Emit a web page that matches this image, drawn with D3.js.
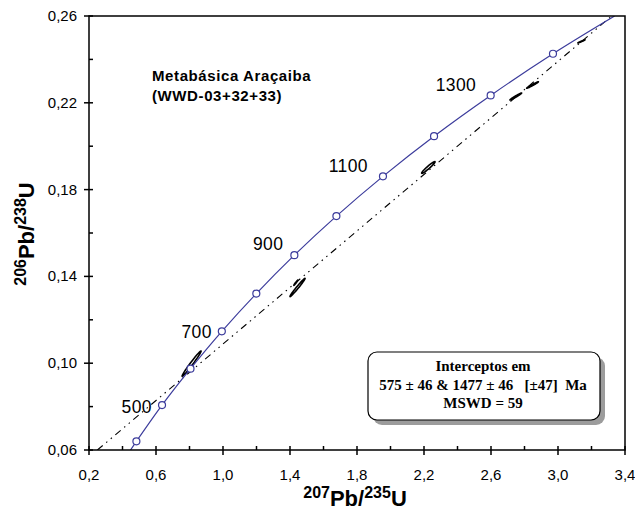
<!DOCTYPE html>
<html>
<head>
<meta charset="utf-8">
<script src="https://cdn.jsdelivr.net/npm/d3@7/dist/d3.min.js"></script>
<style>
  body { margin: 0; background: #fff; }
  svg { display: block; font-family: Arial, "Liberation Sans", sans-serif; }
</style>
</head>
<body>
<svg id="chart" width="635" height="519"></svg>
<script>
// concordia age marks (Ma) and their ratios
const ages = [400, 500, 600, 700, 800, 900, 1000, 1100, 1200, 1300, 1400]
const concX = [0.483, 0.636, 0.806, 0.993, 1.199, 1.426, 1.677, 1.955, 2.260, 2.598, 2.970]
const concY = [0.0640, 0.0807, 0.0975, 0.1147, 0.1321, 0.1498, 0.1678, 0.1861, 0.2046, 0.2234, 0.2426]
const labelAges = [500, 700, 900, 1100, 1300]
// where the curve leaves the frame
const curveStart = [0.448, 0.060]
const curveEnd = [3.338, 0.260]

// discordia line ends
const discX = [0.250, 3.321]
const discY = [0.060, 0.260]

// error ellipses: centre, 2 sigma, correlation
const ellX = [0.8125, 1.445, 1.435, 2.226, 2.748, 2.848, 3.140]
const ellY = [0.0998, 0.1349, 0.1371, 0.1902, 0.2229, 0.2282, 0.2483]
const ellSx = [0.0565, 0.045, 0.012, 0.040, 0.035, 0.035, 0.021]
const ellSy = [0.0058, 0.0042, 0.0012, 0.0027, 0.0016, 0.0015, 0.0007]
const ellRho = [0.985, 0.985, 0.98, 0.96, 0.98, 0.98, 0.98]

const xTicks = [0.2, 0.6, 1.0, 1.4, 1.8, 2.2, 2.6, 3.0, 3.4]
const xMinor = [0.4, 0.8, 1.2, 1.6, 2.0, 2.4, 2.8, 3.2]
const yTicks = [0.06, 0.10, 0.14, 0.18, 0.22, 0.26]
const yMinor = [0.08, 0.12, 0.16, 0.20, 0.24]

const title = ['Metabásica Araçaiba', '(WWD-03+32+33)']
const boxLines = ['Interceptos em', '575 ± 46 & 1477 ± 46   [±47]  Ma', 'MSWD = 59']

const svg = d3.select('#chart')
const mLeft = 89, mRight = 625, mTop = 16, mBottom = 450

const x = d3.scaleLinear().domain([0.2, 3.4]).range([mLeft, mRight])
const y = d3.scaleLinear().domain([0.06, 0.26]).range([mBottom, mTop])

svg.append('clipPath').attr('id', 'plot')
  .append('rect').attr('x', mLeft).attr('y', mTop)
  .attr('width', mRight - mLeft).attr('height', mBottom - mTop)

const plot = svg.append('g').attr('clip-path', 'url(#plot)')

// ellipses
const blue = '#3c3c9c'
ellX.forEach((cx, i) => {
  const pts = d3.range(0, 361, 6).map(a => {
    const t = a * Math.PI / 180
    const ex = cx + ellSx[i] * Math.cos(t)
    const ey = ellY[i] + ellSy[i] * (ellRho[i] * Math.cos(t) + Math.sqrt(1 - ellRho[i] * ellRho[i]) * Math.sin(t))
    return [x(ex), y(ey)]
  })
  plot.append('path')
    .attr('d', d3.line()(pts) + 'Z')
    .attr('fill', 'none')
    .attr('stroke', '#000')
    .attr('stroke-width', 1.6)
})

// discordia
plot.append('line')
  .attr('x1', x(discX[0])).attr('y1', y(discY[0]))
  .attr('x2', x(discX[1])).attr('y2', y(discY[1]))
  .attr('stroke', '#000')
  .attr('stroke-width', 1.1)
  .attr('stroke-dasharray', '7,4.5,1.5,4.5,1.5,4.5')

// concordia
const curvePts = [curveStart].concat(concX.map((d, i) => [d, concY[i]]), [curveEnd])
plot.append('path')
  .datum(curvePts)
  .attr('d', d3.line().x(d => x(d[0])).y(d => y(d[1])).curve(d3.curveCatmullRom))
  .attr('fill', 'none')
  .attr('stroke', blue)
  .attr('stroke-width', 1.2)

plot.selectAll('circle.age').data(ages)
  .enter().append('circle')
    .attr('class', 'age')
    .attr('cx', (d, i) => x(concX[i]))
    .attr('cy', (d, i) => y(concY[i]))
    .attr('r', 3.5)
    .attr('fill', '#fff')
    .attr('stroke', blue)
    .attr('stroke-width', 1.2)

// age labels, offsets tuned by eye
const labelShift = { 500: [-10, 7.5], 700: [-10, 7], 900: [-11, -5], 1100: [-15, -4.5], 1300: [-14.5, -4.5] }
labelAges.forEach(a => {
  const i = ages.indexOf(a)
  svg.append('text')
    .attr('x', x(concX[i]) + labelShift[a][0])
    .attr('y', y(concY[i]) + labelShift[a][1])
    .attr('text-anchor', 'end')
    .attr('font-size', 17.5)
    .attr('letter-spacing', 0.4)
    .text(a)
})

// frame
svg.append('rect')
  .attr('x', mLeft).attr('y', mTop)
  .attr('width', mRight - mLeft).attr('height', mBottom - mTop)
  .attr('fill', 'none').attr('stroke', '#000').attr('stroke-width', 1.5)

const fmt2 = d => d3.format('.2f')(d).replace('.', ',')
const fmt1 = d => d3.format('.1f')(d).replace('.', ',')

xTicks.forEach(t => {
  svg.append('line').attr('x1', x(t)).attr('x2', x(t))
    .attr('y1', mBottom - 4).attr('y2', mBottom + 5)
    .attr('stroke', '#000').attr('stroke-width', 1.5)
  svg.append('text').attr('x', x(t)).attr('y', mBottom + 30)
    .attr('text-anchor', 'middle').attr('font-size', 15).text(fmt1(t))
})
xMinor.forEach(t => {
  svg.append('line').attr('x1', x(t)).attr('x2', x(t))
    .attr('y1', mBottom - 4).attr('y2', mBottom)
    .attr('stroke', '#000').attr('stroke-width', 1.5)
})
yTicks.forEach(t => {
  svg.append('line').attr('x1', mLeft - 5).attr('x2', mLeft + 4)
    .attr('y1', y(t)).attr('y2', y(t))
    .attr('stroke', '#000').attr('stroke-width', 1.5)
  svg.append('text').attr('x', mLeft - 12).attr('y', y(t) + 5)
    .attr('text-anchor', 'end').attr('font-size', 15).text(fmt2(t))
})
yMinor.forEach(t => {
  svg.append('line').attr('x1', mLeft).attr('x2', mLeft + 4)
    .attr('y1', y(t)).attr('y2', y(t))
    .attr('stroke', '#000').attr('stroke-width', 1.5)
})

// axis titles
function isoLabel(g, sup1, main1, sup2, main2) {
  g.append('tspan').attr('font-size', 16).attr('dy', -8).text(sup1)
  g.append('tspan').attr('font-size', 22).attr('dy', 8).text(main1)
  g.append('tspan').attr('font-size', 16).attr('dy', -8).text(sup2)
  g.append('tspan').attr('font-size', 22).attr('dy', 8).text(main2)
}
const xl = svg.append('text').attr('x', 355).attr('y', 506)
  .attr('text-anchor', 'middle').attr('font-weight', 'bold')
isoLabel(xl, '207', 'Pb/', '235', 'U')
const yl = svg.append('text').attr('transform', 'translate(34,234) rotate(-90)')
  .attr('text-anchor', 'middle').attr('font-weight', 'bold')
isoLabel(yl, '206', 'Pb/', '238', 'U')

// sample name
title.forEach((s, i) => {
  svg.append('text').attr('x', 152).attr('y', 81 + i * 20)
    .attr('font-size', 15).attr('letter-spacing', 0.6)
    .attr('font-weight', 'bold').text(s)
})

// intercept box
const bx = 368, by = 352, bw = 232, bh = 68
svg.append('rect').attr('x', bx + 5).attr('y', by + 5)
  .attr('width', bw).attr('height', bh).attr('rx', 9)
  .attr('fill', '#9c9c9c')
svg.append('rect').attr('x', bx).attr('y', by)
  .attr('width', bw).attr('height', bh).attr('rx', 9)
  .attr('fill', '#fff').attr('stroke', '#000').attr('stroke-width', 1.2)
boxLines.forEach((s, i) => {
  svg.append('text').attr('x', bx + bw / 2 - 1).attr('y', by + 19 + i * 18.7)
    .attr('text-anchor', 'middle')
    .attr('font-family', '"Liberation Serif", "Times New Roman", serif')
    .attr('font-weight', 'bold').attr('font-size', 15)
    .style('white-space', 'pre')
    .text(s)
})
</script>
</body>
</html>
